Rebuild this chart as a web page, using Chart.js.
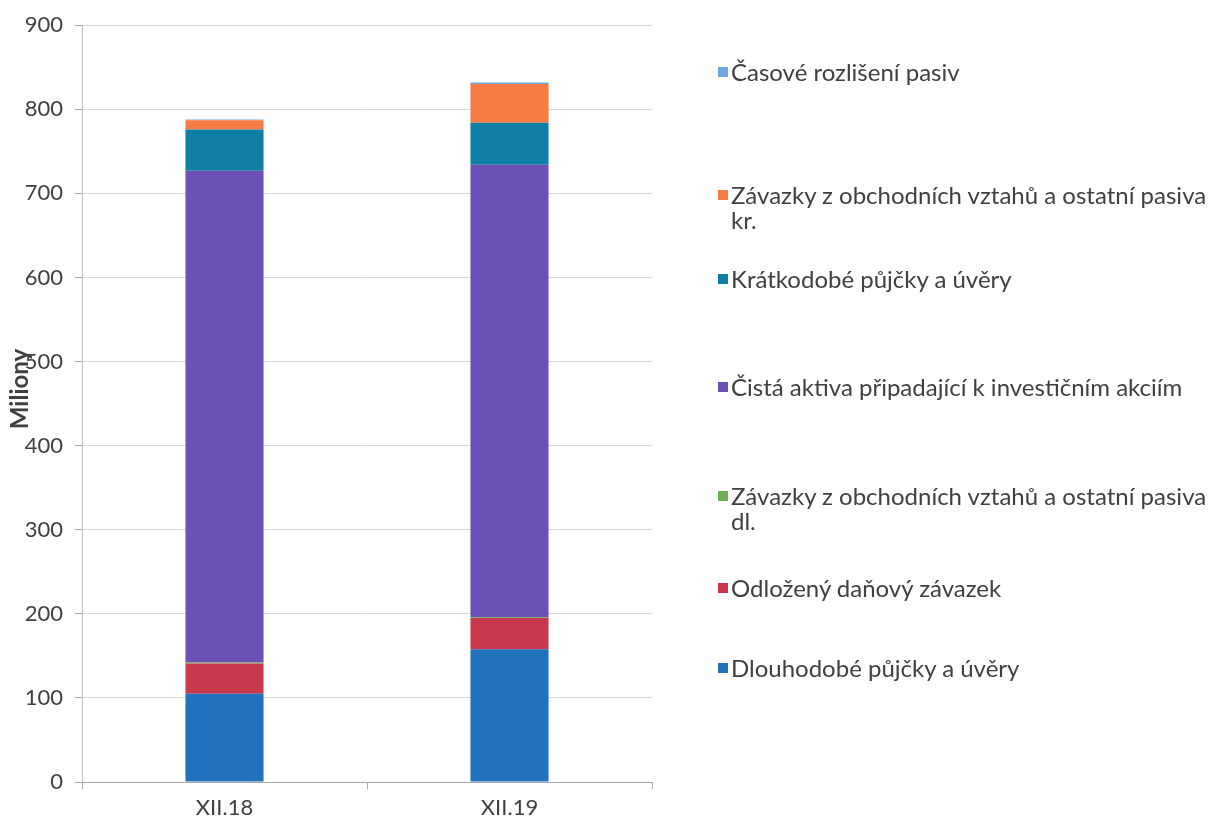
<!DOCTYPE html>
<html>
<head>
<meta charset="utf-8">
<script src="https://cdn.jsdelivr.net/npm/chart.js@4.4.1/dist/chart.umd.min.js"></script>
<style>
  html, body { margin: 0; padding: 0; background: #ffffff; }
  #wrap { position: relative; width: 1217px; height: 827px; overflow: hidden; }
  #c { position: absolute; left: 0; top: 0; }
  .lg { position: absolute; left: 718px; width: 499px; font-family: Lato, "Open Sans", sans-serif; font-size: 24px; line-height: 25px; color: #404040; }
  .lg .sw { position: absolute; left: 0; top: 8px; width: 10px; height: 10px; }
  .lg .tx { position: absolute; left: 13px; width: 485px; }
</style>
</head>
<body>
<div id="wrap">
  <canvas id="c" width="1217" height="827"></canvas>
</div>
<script>
// ---- data ----
const categories = ["XII.18", "XII.19"];
const seriesNames = [
  "Dlouhodobé půjčky a úvěry",
  "Odložený daňový závazek",
  "Závazky z obchodních vztahů a ostatní pasiva dl.",
  "Čistá aktiva připadající k investičním akciím",
  "Krátkodobé půjčky a úvěry",
  "Závazky z obchodních vztahů a ostatní pasiva kr.",
  "Časové rozlišení pasiv"
];
const dlouhodobe   = [105, 158];
const odlozeny     = [36, 37];
const zavazkyDl    = [1, 1];
const cistaAktiva  = [585, 538];
const kratkodobe   = [49, 50];
const zavazkyKr    = [11, 46];
const casove       = [1, 2];
const yTicks = [0, 100, 200, 300, 400, 500, 600, 700, 800, 900];
const yAxisTitle = "Miliony";

// ---- styles ----
const seriesColors = ["#2271BD", "#C9394D", "#6AAF55", "#6B51B6", "#0F7FA6", "#F57D43", "#6FA9DE"];
const seriesValues = [dlouhodobe, odlozeny, zavazkyDl, cistaAktiva, kratkodobe, zavazkyKr, casove];
// legend entry tops (pixels), top-to-bottom order = reversed series
const legendTops = [59, 182, 266, 374, 483, 575, 655];
const FONT = "Lato, 'Open Sans', sans-serif";

const datasets = seriesNames.map((n, i) => ({
  label: n,
  data: seriesValues[i],
  backgroundColor: seriesColors[i],
  borderWidth: 0,
  categoryPercentage: 1.0,
  barPercentage: 0.274
}));

const axisTitlePlugin = {
  id: 'axisTitle',
  afterDraw(chart) {
    const ctx = chart.ctx;
    ctx.save();
    ctx.translate(20, 389);
    ctx.rotate(-Math.PI / 2);
    ctx.font = "bold 24px " + FONT;
    ctx.fillStyle = "#404040";
    ctx.textAlign = "center";
    ctx.textBaseline = "middle";
    ctx.fillText(yAxisTitle, 0, 0);
    ctx.restore();
  }
};

new Chart(document.getElementById('c'), {
  type: 'bar',
  data: { labels: categories, datasets },
  plugins: [axisTitlePlugin],
  options: {
    responsive: false,
    animation: false,
    layout: { padding: { left: 10, right: 565, top: 5, bottom: 0 } },
    plugins: { legend: { display: false }, tooltip: { enabled: false }, title: { display: false } },
    scales: {
      x: {
        stacked: true,
        afterFit(scale) { scale.height = 45; },
        grid: { display: true, drawOnChartArea: false, drawTicks: true, tickLength: 7, color: "#a6a6a6", offset: true },
        border: { display: true, color: "#a6a6a6" },
        ticks: { color: "#404040", font: { family: FONT, size: 22 }, padding: 6 }
      },
      y: {
        stacked: true,
        min: 0, max: 900,
        afterFit(scale) { scale.width = 72; },
        afterBuildTicks(scale) { scale.ticks = yTicks.map(v => ({ value: v })); },
        grid: { color: "#d9d9d9", drawTicks: true, tickLength: 7, tickColor: "#a6a6a6" },
        border: { display: true, color: "#bfbfbf" },
        ticks: { color: "#404040", font: { family: FONT, size: 22 }, padding: 12 }
      }
    }
  }
});

// ---- legend (built from series arrays) ----
const wrap = document.getElementById('wrap');
const order = seriesNames.map((_, i) => i).reverse();
order.forEach((si, k) => {
  const d = document.createElement('div');
  d.className = 'lg';
  d.style.top = legendTops[k] + 'px';
  const sw = document.createElement('div');
  sw.className = 'sw';
  sw.style.background = seriesColors[si];
  const tx = document.createElement('div');
  tx.className = 'tx';
  tx.textContent = seriesNames[si];
  d.appendChild(sw); d.appendChild(tx);
  wrap.appendChild(d);
});
</script>
</body>
</html>
